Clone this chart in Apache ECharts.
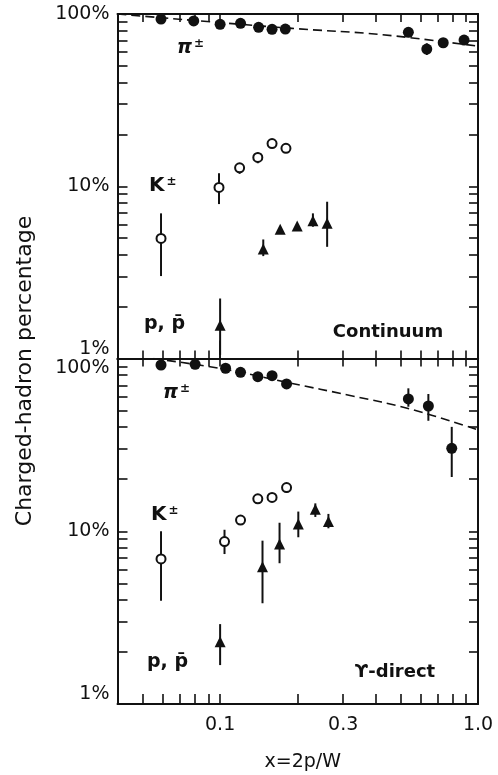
<!DOCTYPE html>
<html><head><meta charset="utf-8">
<script src="https://cdn.jsdelivr.net/npm/echarts@6/dist/echarts.min.js"></script>
<style>html,body{margin:0;padding:0;background:#fff}#c{width:498px;height:775px}</style>
</head><body><div id="c"></div>
<script>
// ---- tick values ----
const xTickValues = [0.05,0.06,0.07,0.08,0.09,0.1,0.2,0.3,0.4,0.5,0.6,0.7,0.8,0.9];
const xLabelValues = [0.1,0.3,1.0];
const yTickValues = [2,3,4,5,6,7,8,9,10,20,30,40,50,60,70,80,90];
const yLabelValues = [1,10,100];

// ---- Continuum panel ----
const contPi = [[0.059,93.5],[0.079,91.1],[0.100,87.1],[0.120,88.3],[0.141,83.7],[0.159,81.5],[0.179,81.8],[0.537,78.3],[0.633,62.6],[0.733,68.1],[0.883,70.6]];
const contPiErr = [[0.537,73.5,82.9],[0.633,57.8,67.6],[0.733,65.2,71.2],[0.883,67.6,73.8]];
const contK = [[0.059,4.98],[0.099,9.85],[0.119,12.8],[0.140,14.7],[0.159,17.7],[0.180,16.6]];
const contKErr = [[0.059,3.01,6.96],[0.099,7.88,11.9],[0.119,11.8,13.6],[0.140,13.6,15.7]];
const contP = [[0.100,1.56],[0.147,4.32],[0.171,5.62],[0.199,5.87],[0.229,6.30],[0.260,6.09]];
const contPErr = [[0.100,1.05,2.23],[0.147,3.93,4.91],[0.229,5.82,6.96],[0.260,4.45,8.13]];
const contFit = [[0.04,100],[0.19,82.5],[0.42,76],[1.0,65]];

// ---- Upsilon-direct panel ----
const dirPi = [[0.059,91.7],[0.080,92.6],[0.105,87.8],[0.120,83.2],[0.140,78.5],[0.159,79.5],[0.181,71.2],[0.537,58.3],[0.642,53.1],[0.791,30.2]];
const dirPiErr = [[0.537,52.6,67.2],[0.642,43.6,62.3],[0.791,20.6,40.2]];
const dirK = [[0.059,6.91],[0.104,8.71],[0.120,11.6],[0.140,15.4],[0.159,15.7],[0.181,17.9]];
const dirKErr = [[0.059,3.96,10.0],[0.104,7.38,10.2],[0.120,11.0,12.1],[0.181,16.7,18.9]];
const dirP = [[0.100,2.29],[0.146,6.23],[0.170,8.44],[0.201,11.0],[0.234,13.4],[0.263,11.4]];
const dirPErr = [[0.100,1.68,2.90],[0.146,3.83,8.82],[0.170,6.53,11.2],[0.201,9.23,13.0],[0.234,12.1,14.5],[0.263,10.4,12.6]];
const dirFit = [[0.055,100],[0.103,86.9],[0.187,72.1],[0.319,61.1],[0.546,51.0],[1.0,38.6]];

const FONT = 'DejaVu Sans';
const BLACK = '#111';
const chart = echarts.init(document.getElementById('c'));

function xAxis(grid, pos, opts) {
  return Object.assign({
    type: 'log', logBase: 10, min: 0.04, max: 1.0, gridIndex: grid, position: pos,
    axisLine: {show: true, onZero: false, lineStyle: {color: BLACK, width: 2}},
    axisTick: {show: true, inside: true, length: 8, customValues: xTickValues, lineStyle: {color: BLACK, width: 1.6}},
    axisLabel: {show: false},
    splitLine: {show: false}, minorTick: {show: false}
  }, opts || {});
}
function yAxis(grid, pos, opts) {
  return Object.assign({
    type: 'log', logBase: 10, min: 1, max: 100, gridIndex: grid, position: pos,
    axisLine: {show: true, onZero: false, lineStyle: {color: BLACK, width: 2}},
    axisTick: {show: true, inside: true, length: 10, customValues: yTickValues, lineStyle: {color: BLACK, width: 1.6}},
    axisLabel: {show: false},
    splitLine: {show: false}, minorTick: {show: false}
  }, opts || {});
}
const yLab = (extra) => Object.assign({
  show: true, customValues: yLabelValues, margin: 8,
  formatter: v => Math.round(v) + '%',
  fontFamily: FONT, fontSize: 19, color: BLACK
}, extra);

function errSeries(data, xi, yi) {
  return {
    type: 'custom', xAxisIndex: xi, yAxisIndex: yi, z: 2, silent: true,
    data: data,
    renderItem: (params, api) => {
      const p1 = api.coord([api.value(0), api.value(1)]);
      const p2 = api.coord([api.value(0), api.value(2)]);
      return {type: 'line', shape: {x1: p1[0], y1: p1[1], x2: p2[0], y2: p2[1]},
              style: {stroke: BLACK, lineWidth: 2}};
    }
  };
}
function pts(data, xi, yi, kind) {
  const s = {type: 'scatter', xAxisIndex: xi, yAxisIndex: yi, z: 3, data: data, silent: true};
  if (kind === 'pi') { s.symbol = 'circle'; s.symbolSize = 11; s.itemStyle = {color: BLACK, opacity: 1}; }
  if (kind === 'K') { s.symbol = 'emptyCircle'; s.symbolSize = 9; s.itemStyle = {color: BLACK, borderWidth: 2, opacity: 1}; }
  if (kind === 'p') { s.symbol = 'triangle'; s.symbolSize = 11; s.itemStyle = {color: BLACK, opacity: 1}; }
  return s;
}
function fit(data, xi, yi) {
  return {type: 'line', xAxisIndex: xi, yAxisIndex: yi, z: 1, data: data, smooth: 0.4,
          showSymbol: false, silent: true, lineStyle: {color: BLACK, width: 1.6, type: [9, 5]}};
}

const ann = (size) => ({fontFamily: FONT, fontSize: size, fontWeight: 'bold'});
const G = {left: 117.5, width: 360.5};
const option = {
  animation: false,
  backgroundColor: '#fff',
  grid: [
    {left: G.left, width: G.width, top: 14, height: 344.5},
    {left: G.left, width: G.width, top: 358.5, height: 345.5}
  ],
  xAxis: [
    xAxis(0, 'bottom'),
    xAxis(0, 'bottom', {axisLine: {show: false}, axisTick: {show: true, inside: true, length: 18, customValues: [0.1], lineStyle: {color: BLACK, width: 1.6}}}),
    xAxis(0, 'top'),
    xAxis(1, 'bottom', {
      axisTick: {show: true, inside: true, length: 10, customValues: xTickValues, lineStyle: {color: BLACK, width: 1.6}},
      axisLabel: {show: true, customValues: xLabelValues, margin: 12, formatter: v => v.toFixed(1), fontFamily: FONT, fontSize: 19, color: BLACK},
      name: 'x=2p/W', nameLocation: 'middle', nameGap: 49,
      nameTextStyle: {fontFamily: FONT, fontSize: 19, color: BLACK, padding: [0, 0, 0, 10]}
    }),
    xAxis(1, 'top')
  ],
  yAxis: [
    yAxis(0, 'left', {axisLabel: yLab({verticalAlignMinLabel: 'bottom'})}),
    yAxis(0, 'right', {axisTick: {show: true, inside: true, length: 9, customValues: yTickValues, lineStyle: {color: BLACK, width: 1.6}}}),
    yAxis(1, 'left', {axisLabel: yLab({verticalAlignMinLabel: 'bottom', verticalAlignMaxLabel: 'top'})}),
    yAxis(1, 'right', {axisTick: {show: true, inside: true, length: 9, customValues: yTickValues, lineStyle: {color: BLACK, width: 1.6}}})
  ],
  series: [
    fit(contFit, 0, 0),
    errSeries(contPiErr, 0, 0), errSeries(contKErr, 0, 0), errSeries(contPErr, 0, 0),
    pts(contPi, 0, 0, 'pi'), pts(contK, 0, 0, 'K'), pts(contP, 0, 0, 'p'),
    fit(dirFit, 3, 2),
    errSeries(dirPiErr, 3, 2), errSeries(dirKErr, 3, 2), errSeries(dirPErr, 3, 2),
    pts(dirPi, 3, 2, 'pi'), pts(dirK, 3, 2, 'K'), pts(dirP, 3, 2, 'p')
  ],
  graphic: [
    {type: 'text', x: 25, y: 371, rotation: Math.PI / 2,
     style: {text: 'Charged-hadron percentage', font: '22px ' + FONT, fill: BLACK, textAlign: 'center', textVerticalAlign: 'middle'}},
    {type: 'text', x: 177, y: 48, style: {text: '{a|π}{b|±}', fill: BLACK, textVerticalAlign: 'middle',
      rich: {a: {fontFamily: FONT, fontSize: 19, fontStyle: 'italic', fontWeight: 'bold'}, b: Object.assign(ann(12), {padding: [0, 0, 8, 2]})}}},
    {type: 'text', x: 149, y: 186, style: {text: '{a|K}{b|±}', fill: BLACK, textVerticalAlign: 'middle',
      rich: {a: ann(20), b: Object.assign(ann(12), {padding: [0, 0, 9, 2]})}}},
    {type: 'text', x: 144, y: 324, style: {text: 'p, p\u0304', fill: BLACK, textVerticalAlign: 'middle', font: 'bold 19px ' + FONT}},
    {type: 'text', x: 388, y: 332, style: {text: 'Continuum', fill: BLACK, textAlign: 'center', textVerticalAlign: 'middle', font: 'bold 18px ' + FONT}},
    {type: 'text', x: 163, y: 393, style: {text: '{a|π}{b|±}', fill: BLACK, textVerticalAlign: 'middle',
      rich: {a: {fontFamily: FONT, fontSize: 19, fontStyle: 'italic', fontWeight: 'bold'}, b: Object.assign(ann(12), {padding: [0, 0, 8, 2]})}}},
    {type: 'text', x: 151, y: 515, style: {text: '{a|K}{b|±}', fill: BLACK, textVerticalAlign: 'middle',
      rich: {a: ann(20), b: Object.assign(ann(12), {padding: [0, 0, 9, 2]})}}},
    {type: 'text', x: 147, y: 662, style: {text: 'p, p\u0304', fill: BLACK, textVerticalAlign: 'middle', font: 'bold 19px ' + FONT}},
    {type: 'text', x: 395, y: 672, style: {text: '\u03D2-direct', fill: BLACK, textAlign: 'center', textVerticalAlign: 'middle', font: 'bold 18px ' + FONT}}
  ]
};
chart.setOption(option);
</script></body></html>
